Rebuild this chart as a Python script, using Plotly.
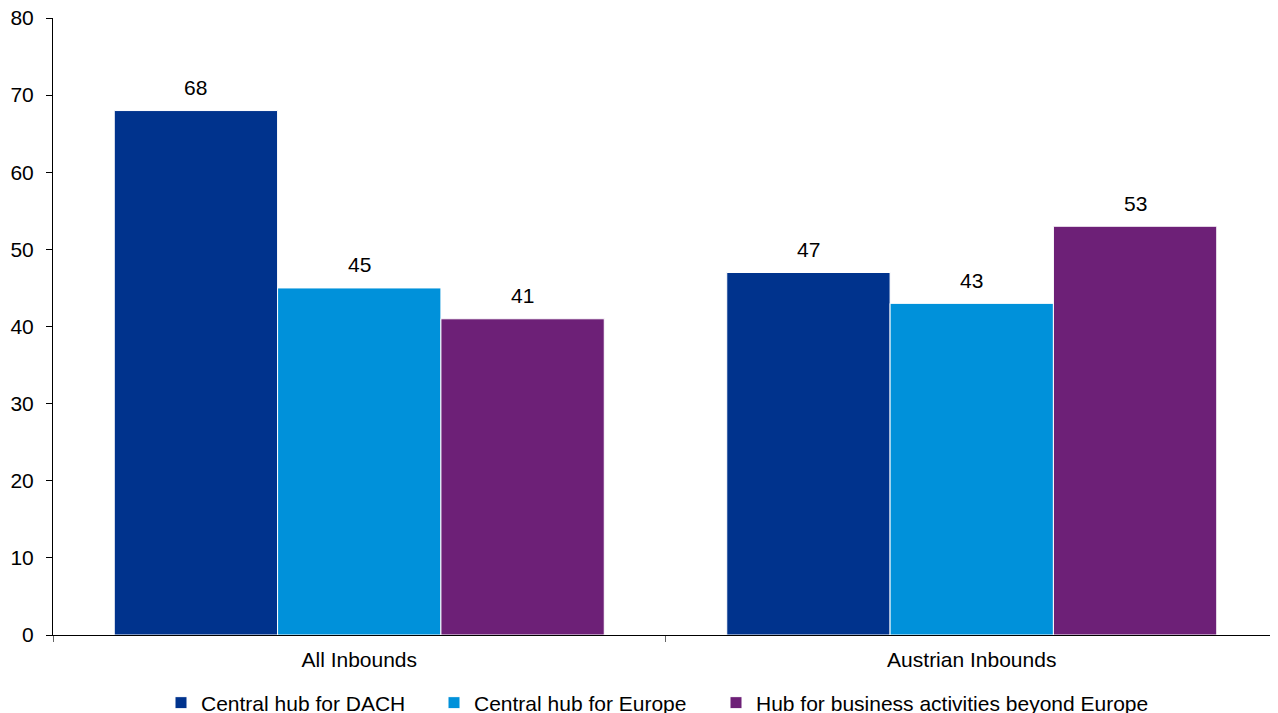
import plotly.graph_objects as go

categories = ["All Inbounds", "Austrian Inbounds"]
series_names = ["Central hub for DACH", "Central hub for Europe", "Hub for business activities beyond Europe"]
dach = [68, 47]
europe = [45, 43]
beyond = [41, 53]
colors = ["#00338D", "#0091DA", "#6D2077"]

FONT = "Liberation Sans, Arial"
W, H = 1270, 740
ML, MR, MT, MB = 45, 0, 10, 113
BARGAP = 0.2
plot_w = W - ML - MR
plot_h = H - MT - MB
cat_px = plot_w / len(categories)
bar_px = cat_px * (1 - BARGAP) / len(series_names)

legend_x_px = [201, 474, 756]  # screen text-start positions
legend_keys = ["legend", "legend2", "legend3"]

fig = go.Figure()
all_series = [dach, europe, beyond]
for i, (name, vals, col) in enumerate(zip(series_names, all_series, colors)):
    fig.add_trace(go.Bar(
        x=categories, y=vals, name=name,
        marker=dict(color=col, line=dict(color="white", width=1)),
        legend=legend_keys[i],
    ))
    shift = (i - (len(series_names) - 1) / 2) * bar_px
    for c, v in zip(categories, vals):
        fig.add_annotation(x=c, y=v, xref="x", yref="y", text=str(v), showarrow=False,
                           xshift=shift, yshift=23, yanchor="middle",
                           font=dict(size=21, color="black", family=FONT))

leg_common = dict(orientation="h", xanchor="left", y=-68 / plot_h, yanchor="middle",
                  font=dict(size=21, family=FONT, color="black"), itemwidth=30,
                  bgcolor="rgba(0,0,0,0)")
layout_leg = {}
for k, px in zip(legend_keys, legend_x_px):
    layout_leg[k] = dict(leg_common, x=(px - 8 - ML - 40) / plot_w)

fig.update_layout(
    width=W, height=H,
    barmode="group", bargap=BARGAP, bargroupgap=0,
    plot_bgcolor="white", paper_bgcolor="white",
    font=dict(family=FONT, size=21, color="black"),
    margin=dict(l=ML, r=MR, t=MT, b=MB),
    showlegend=True,
    xaxis=dict(showline=True, linecolor="black", linewidth=1, automargin=False,
               ticks="outside", tickson="boundaries", ticklen=6, tickcolor="#666",
               showgrid=False, tickfont=dict(size=21), ticklabelstandoff=6),
    yaxis=dict(range=[0, 80], dtick=10, showline=True, linecolor="black", linewidth=1,
               automargin=False, ticklabeloverflow="allow",
               ticks="outside", ticklen=6, tickcolor="black", showgrid=False,
               zeroline=False, tickfont=dict(size=21), ticklabelstandoff=8),
    **layout_leg,
)

fig.write_html("out.html")
